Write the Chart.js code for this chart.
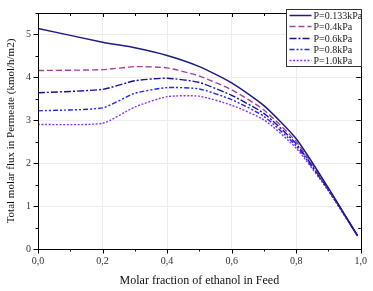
<!DOCTYPE html>
<html>
<head>
<meta charset="utf-8">
<script src="https://cdn.jsdelivr.net/npm/chart.js@4.4.1/dist/chart.umd.min.js"></script>
<style>
html,body{margin:0;padding:0;background:#fff;}
#wrap{width:373px;height:291px;}
</style>
</head>
<body>
<div id="wrap"><canvas id="c" width="373" height="291"></canvas></div>
<script>
// Data
const xFeed = [0, 0.2, 0.3, 0.4, 0.5, 0.6, 0.7, 0.8, 0.9, 0.99];
const seriesNames = ['P=0.133kPa', 'P=0.4kPa', 'P=0.6kPa', 'P=0.8kPa', 'P=1.0kPa'];
const fluxP0133 = [5.14, 4.82, 4.69, 4.51, 4.25, 3.87, 3.34, 2.57, 1.42, 0.31];
const fluxP04   = [4.16, 4.18, 4.25, 4.22, 4.03, 3.71, 3.24, 2.50, 1.40, 0.31];
const fluxP06   = [3.64, 3.72, 3.92, 3.98, 3.88, 3.58, 3.16, 2.45, 1.38, 0.31];
const fluxP08   = [3.22, 3.29, 3.63, 3.76, 3.73, 3.48, 3.09, 2.40, 1.37, 0.31];
const fluxP10   = [2.90, 2.93, 3.31, 3.55, 3.56, 3.35, 3.01, 2.35, 1.35, 0.30];
const xTickLabels = ['0,0', '0,2', '0,4', '0,6', '0,8', '1,0'];
const yTickLabels = ['0', '1', '2', '3', '4', '5'];

const allSeries = [fluxP0133, fluxP04, fluxP06, fluxP08, fluxP10];
const colors = ['#1c1c86', '#a0449c', '#141496', '#2424f0', '#8a35f2'];
const dashes = [[], [6, 3], [7, 2, 2, 2], [5, 2, 2, 2, 2, 2], [2, 1.6]];
const widths = [1.5, 1.4, 1.4, 1.4, 1.4];

const SERIF = '"Liberation Serif", "DejaVu Serif", serif';

const datasets = allSeries.map((vals, i) => ({
  label: seriesNames[i],
  data: xFeed.map((x, j) => ({x: x, y: vals[j]})),
  borderColor: colors[i],
  borderDash: dashes[i],
  borderWidth: widths[i],
  pointRadius: 0,
  fill: false,
  tension: 0.2
}));

const isMajorX = v => Math.round(v * 10) % 2 === 0;
const isMajorY = v => Math.round(v * 2) % 2 === 0;

const framePlugin = {
  id: 'frame',
  afterDatasetsDraw(chart) {
    const ctx = chart.ctx, a = chart.chartArea;
    const xs = chart.scales.x, ys = chart.scales.y;
    ctx.save();
    ctx.strokeStyle = '#000';
    ctx.lineWidth = 1;
    ctx.strokeRect(Math.round(a.left) + 0.5, Math.round(a.top) + 0.5,
                   Math.round(a.right - a.left), Math.round(a.bottom - a.top));
    ctx.beginPath();
    xs.ticks.forEach(t => {
      const px = Math.round(xs.getPixelForValue(t.value)) + 0.5;
      const major = isMajorX(t.value);
      const lb = major ? 4.5 : 2.5;
      const lt = major ? 4 : 3;
      ctx.moveTo(px, a.bottom); ctx.lineTo(px, a.bottom + lb);
      ctx.moveTo(px, a.top); ctx.lineTo(px, a.top + lt);
    });
    ys.ticks.forEach(t => {
      const py = Math.round(ys.getPixelForValue(t.value)) + 0.5;
      const major = isMajorY(t.value);
      const l = major ? 4.5 : 2.5;
      ctx.moveTo(a.left, py); ctx.lineTo(a.left - l, py);
      ctx.moveTo(a.right, py); ctx.lineTo(a.right - l, py);
    });
    ctx.stroke();
    ctx.restore();
  },
  afterDraw(chart) {
    // legend box inside plot area, top-right
    const ctx = chart.ctx, a = chart.chartArea;
    const right = Math.round(a.right) + 0.5;
    const left = right - 75;
    const top = 9.5, bottom = 66.5;
    ctx.save();
    ctx.fillStyle = '#fff';
    ctx.fillRect(left, top, right - left, bottom - top);
    ctx.strokeStyle = '#333';
    ctx.lineWidth = 1;
    ctx.strokeRect(left, top, right - left, bottom - top);
    ctx.font = '10px ' + SERIF;
    ctx.textBaseline = 'middle';
    ctx.textAlign = 'left';
    chart.data.datasets.forEach((ds, i) => {
      const y = Math.round(top + 5.5 + i * 11.3) + 0.5;
      ctx.strokeStyle = ds.borderColor;
      ctx.lineWidth = ds.borderWidth;
      ctx.setLineDash(ds.borderDash);
      ctx.beginPath();
      ctx.moveTo(left + 3, y);
      ctx.lineTo(left + 25, y);
      ctx.stroke();
      ctx.setLineDash([]);
      ctx.fillStyle = '#222';
      ctx.fillText(ds.label, left + 27, y + 0.5);
    });
    ctx.restore();
  }
};

new Chart(document.getElementById('c'), {
  type: 'line',
  data: {datasets: datasets},
  options: {
    responsive: false,
    animation: false,
    layout: {padding: {top: 7, right: 11, left: 0, bottom: 0}},
    plugins: {legend: {display: false}, tooltip: {enabled: false}},
    scales: {
      x: {
        type: 'linear', min: 0, max: 1,
        afterFit: s => { s.height = 42; },
        ticks: {
          stepSize: 0.1, autoSkip: false, maxRotation: 0,
          padding: 6, color: '#333',
          font: {family: SERIF, size: 10},
          callback: v => isMajorX(v) ? xTickLabels[Math.round(v * 5)] : ''
        },
        grid: {
          drawTicks: false,
          color: c => (c.tick && isMajorX(c.tick.value) && c.tick.value > 0.01 && c.tick.value < 0.99) ? '#ececec' : 'rgba(0,0,0,0)',
          lineWidth: 1
        },
        border: {display: false},
        title: {
          display: true, text: 'Molar fraction of ethanol in Feed',
          color: '#111', font: {family: SERIF, size: 12},
          padding: {top: 2, bottom: 3}
        }
      },
      y: {
        min: 0, max: 5.5,
        afterFit: s => { s.width = 38; },
        ticks: {
          stepSize: 0.5, autoSkip: false, padding: 7, color: '#333',
          font: {family: SERIF, size: 10},
          callback: v => isMajorY(v) ? yTickLabels[Math.round(v)] : ''
        },
        grid: {
          drawTicks: false,
          color: c => (c.tick && isMajorY(c.tick.value) && c.tick.value > 0.01) ? '#ececec' : 'rgba(0,0,0,0)',
          lineWidth: 1
        },
        border: {display: false},
        title: {
          display: true, text: 'Total molar flux in Permeate (kmol/h/m2)',
          color: '#111', font: {family: SERIF, size: 11},
          padding: {top: 5, bottom: 0}
        }
      }
    }
  },
  plugins: [framePlugin]
});
</script>
</body>
</html>
